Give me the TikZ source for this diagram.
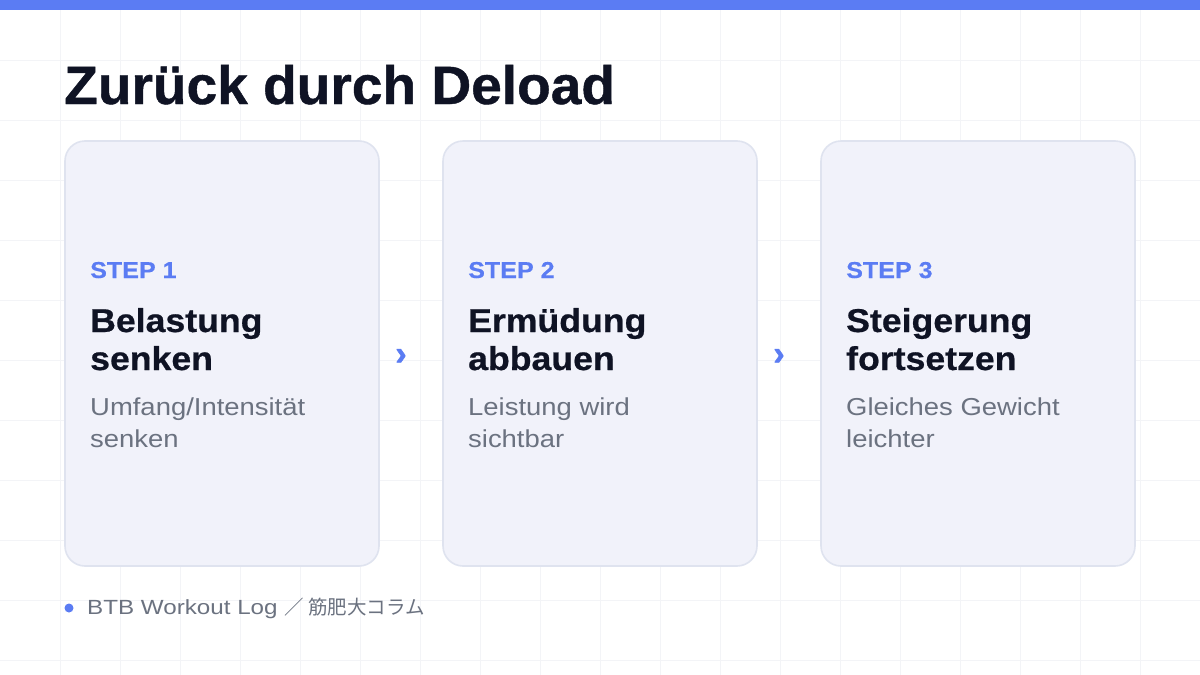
\documentclass[tikz,border=0pt]{standalone}
\usepackage{fontspec}
\setmainfont{Liberation Sans}
\newfontfamily\cjkfont{Noto Sans CJK JP}
\newfontfamily\titlefont[FakeStretch=1.02,FakeBold=0.8]{Liberation Sans Bold}
\newfontfamily\headfont[FakeStretch=1.08,FakeBold=0.6]{Liberation Sans Bold}
\newfontfamily\stepfont[FakeStretch=1.09,FakeBold=0.3]{Liberation Sans Bold}
\newfontfamily\descfont[FakeStretch=1.12]{Liberation Sans}
\newfontfamily\footfont[FakeStretch=1.18]{Liberation Sans}
\newfontfamily\chevfont[FakeBold=1.5]{Liberation Sans Bold}
\definecolor{accent}{HTML}{5B7CF3}
\definecolor{ink}{HTML}{0F1324}
\definecolor{muted}{HTML}{6B7280}
\definecolor{cardfill}{HTML}{F1F2FA}
\definecolor{cardline}{HTML}{DFE3EF}
\definecolor{gridc}{HTML}{F3F4F7}
\tikzset{
  card/.style={draw=cardline, line width=1.6pt, fill=cardfill, rounded corners=20pt},
  steplbl/.style={anchor=base west, inner sep=0pt, text=accent, font=\stepfont\fontsize{23}{28}\selectfont},
  headl/.style={anchor=base west, inner sep=0pt, text=ink, font=\headfont\fontsize{33}{38}\selectfont},
  descl/.style={anchor=base west, inner sep=0pt, text=muted, font=\descfont\fontsize{24.5}{30}\selectfont},
  chev/.style={anchor=center, inner sep=0pt, text=accent, font=\chevfont\fontsize{34}{36}\selectfont},
}
\begin{document}
\begin{tikzpicture}[x=1pt,y=-1pt]
\useasboundingbox (0,0) rectangle (1200,675);
\fill[white] (0,0) rectangle (1200,675);
% grid
\foreach \gx in {60,120,...,1140} \draw[gridc, line width=0.8pt] (\gx,10) -- (\gx,675);
\foreach \gy in {60,120,...,660} \draw[gridc, line width=0.8pt] (0,\gy) -- (1200,\gy);
% top bar
\fill[accent] (0,0) rectangle (1200,10);
% title
\node[anchor=base west, inner sep=0pt, text=ink, font=\titlefont\fontsize{54}{60}\selectfont] (title) at (64,104) {Zurück durch Deload};
% cards
\draw[card] (65,141) rectangle (379,566);
\draw[card] (443,141) rectangle (757,566);
\draw[card] (821,141) rectangle (1135,566);
% card 1
\node[steplbl] (s1) at (90,278) {STEP 1};
\node[headl] (h1a) at (90,332) {Belastung};
\node[headl] (h1b) at (90,370) {senken};
\node[descl] (d1a) at (90,415) {Umfang/Intensität};
\node[descl] (d1b) at (90,447) {senken};
% card 2
\node[steplbl] (s2) at (468,278) {STEP 2};
\node[headl] (h2a) at (468,332) {Ermüdung};
\node[headl] (h2b) at (468,370) {abbauen};
\node[descl] (d2a) at (468,415) {Leistung wird};
\node[descl] (d2b) at (468,447) {sichtbar};
% card 3
\node[steplbl] (s3) at (846,278) {STEP 3};
\node[headl] (h3a) at (846,332) {Steigerung};
\node[headl] (h3b) at (846,370) {fortsetzen};
\node[descl] (d3a) at (846,415) {Gleiches Gewicht};
\node[descl] (d3b) at (846,447) {leichter};
% chevrons
\node[chev] (ar1) at (401,357) {›};
\node[chev] (ar2) at (779,357) {›};
% footer
\fill[accent] (69,608) circle (4.5);
\node[anchor=west, inner sep=0pt, text=muted, font=\footfont\fontsize{20.5}{24}\selectfont] (foot) at (87,608) {BTB Workout Log {\cjkfont\fontsize{19.5}{24}\selectfont ／ 筋肥大コラム}};
\end{tikzpicture}
\end{document}
